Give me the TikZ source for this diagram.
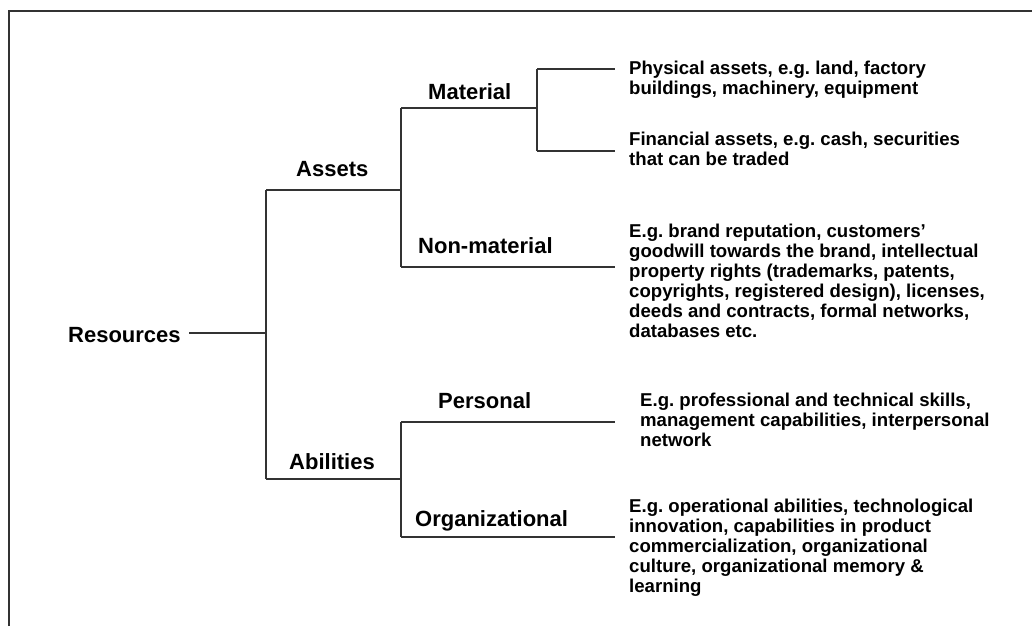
\documentclass[tikz,border=0pt]{standalone}
\usepackage{fontspec}
\setmainfont{Liberation Sans}
\usetikzlibrary{calc}
\frenchspacing

\begin{document}
\begin{tikzpicture}[x=1pt,y=-1pt,
    branch/.style={draw=black!80,line width=1.4pt},
    level/.style={anchor=base west,inner sep=0pt,font=\bfseries\fontsize{22}{24}\selectfont},
    example/.style={anchor=north west,inner sep=0pt,align=left,font=\bfseries\fontsize{18.6}{20}\selectfont}]

  \useasboundingbox (0,0) rectangle (1032,626);

  % frame, only its top and left sides are inside the page
  \coordinate (frame-bl) at (9,626);
  \coordinate (frame-tr) at (1032,11);
  \draw[branch] (frame-bl) |- (frame-tr);

  % labels of the tree
  \node[level] (res)      at (68,342.5)  {Resources};
  \node[level] (assets)   at (296,176)   {Assets};
  \node[level] (abil)     at (289,469)   {Abilities};
  \node[level] (material) at (428,99)    {Material};
  \node[level] (nonmat)   at (418,253)   {Non-material};
  \node[level] (pers)     at (438,408)   {Personal};
  \node[level] (org)      at (415,526)   {Organizational};

  % examples at the leaves
  \node[example] (physical)  at (629,61)  {Physical assets, e.g. land, factory\\buildings, machinery, equipment};
  \node[example] (financial) at (629,132) {Financial assets, e.g. cash, securities\\that can be traded};
  \node[example] (brand)     at (629,224) {E.g. brand reputation, customers'\\goodwill towards the brand, intellectual\\property rights (trademarks, patents,\\copyrights, registered design), licenses,\\deeds and contracts, formal networks,\\databases etc.};
  \node[example] (skills)    at (640,393) {E.g. professional and technical skills,\\management capabilities, interpersonal\\network};
  \node[example] (culture)   at (629,499) {E.g. operational abilities, technological\\innovation, capabilities in product\\commercialization, organizational\\culture, organizational memory \&\\learning};

  % junctions
  \coordinate (res-r)    at (189,333);
  \coordinate (trunk-t)  at (266,190);
  \coordinate (trunk-m)  at (266,333);
  \coordinate (trunk-b)  at (266,479);
  \coordinate (as-t)     at (401,108);
  \coordinate (as-m)     at (401,190);
  \coordinate (as-b)     at (401,267);
  \coordinate (mat-t)    at (537,69);
  \coordinate (mat-m)    at (537,108);
  \coordinate (mat-b)    at (537,151);
  \coordinate (ab-t)     at (401,422);
  \coordinate (ab-m)     at (401,479);
  \coordinate (ab-b)     at (401,537);
  \coordinate (leaf-phy) at (615,69);
  \coordinate (leaf-fin) at (615,151);
  \coordinate (leaf-non) at (615,267);
  \coordinate (leaf-per) at (615,422);
  \coordinate (leaf-org) at (615,537);

  \path[branch] (res-r)   edge (trunk-m)
                (trunk-t) edge (trunk-b)
                (trunk-t) edge (as-m)
                (trunk-b) edge (ab-m)
                (as-t)    edge (as-b)
                (as-t)    edge (mat-m)
                (as-b)    edge (leaf-non)
                (mat-t)   edge (mat-b)
                (mat-t)   edge (leaf-phy)
                (mat-b)   edge (leaf-fin)
                (ab-t)    edge (ab-b)
                (ab-t)    edge (leaf-per)
                (ab-b)    edge (leaf-org);
\end{tikzpicture}
\end{document}
